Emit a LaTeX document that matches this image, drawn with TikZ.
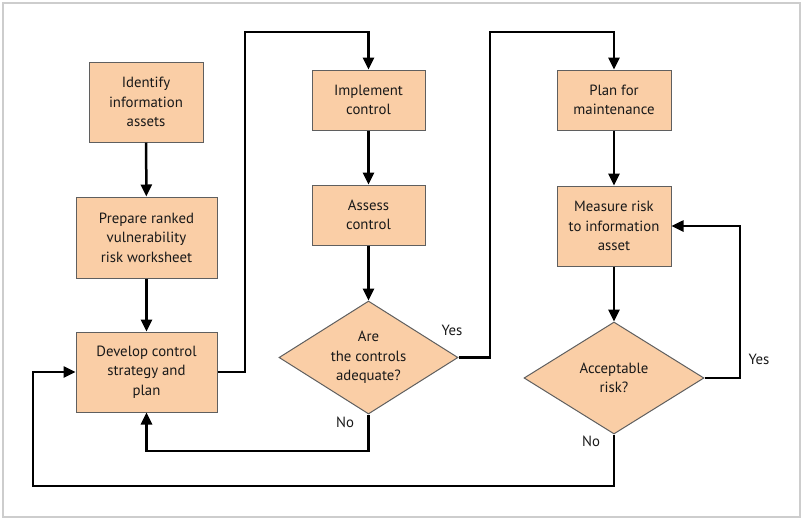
\documentclass[tikz,border=0pt]{standalone}
\usepackage{fontspec}
\setmainfont{PT Sans}
\usetikzlibrary{shapes.geometric,arrows.meta}
\definecolor{peach}{RGB}{250,206,166}
\definecolor{edgegray}{RGB}{95,95,95}
\definecolor{framegray}{RGB}{205,205,205}
\tikzset{
  stepbox/.style={draw=edgegray, line width=1pt, fill=peach, inner sep=0pt,
    align=center, font=\fontsize{14.8}{19.5}\selectfont, text=black!90},
  decide/.style={diamond, aspect=1.6, draw=edgegray, line width=1pt, fill=peach, inner sep=0pt,
    align=center, font=\fontsize{14.8}{19.5}\selectfont, text=black!90},
  flow/.style={line width=2.5pt, -{Triangle[length=12pt,width=11pt]}},
  answer/.style={font=\fontsize{14.8}{16}\selectfont, text=black!90}
}
\begin{document}
\begin{tikzpicture}[x=1pt,y=-1pt]

    \useasboundingbox (0,0) rectangle (804,520);
    \draw [framegray, line width=1.5pt] (3,3) rectangle (800,517);

    \node [stepbox, minimum width=114pt, minimum height=80pt] (ident) at (146,102) {Identify\\information\\assets};
    \node [stepbox, minimum width=141pt, minimum height=81pt] (prep) at (146.5,237.5) {Prepare ranked\\vulnerability\\risk worksheet};
    \node [stepbox, minimum width=141pt, minimum height=80pt] (devel) at (146.5,372) {Develop control\\strategy and\\plan};

    \node [stepbox, minimum width=113pt, minimum height=60pt] (impl) at (368.5,100) {Implement\\control};
    \node [stepbox, minimum width=113pt, minimum height=60pt] (assess) at (368.5,215) {Assess\\control};
    \node [decide, minimum width=179pt, minimum height=113pt] (dec1) at (368.5,357.5) {Are\\the controls\\adequate?};

    \node [stepbox, minimum width=114pt, minimum height=60pt] (plan) at (614,100) {Plan for\\maintenance};
    \node [stepbox, minimum width=114pt, minimum height=80pt] (meas) at (614,226) {Measure risk\\to information\\asset};
    \node [decide, minimum width=180pt, minimum height=112pt] (dec2) at (614,378) {Acceptable\\risk?};

    \coordinate (top1) at (245,32);
    \coordinate (top2) at (490,32);
    \coordinate (loopr) at (740,226);
    \coordinate (nob) at (368.5,451);
    \coordinate (botl) at (33,486);

    \draw [flow] (ident) -- (prep);
    \draw [flow] (prep) -- (devel);
    \draw [flow] (devel.east) -| (top1) -| (impl.north);
    \draw [flow] (impl) -- (assess);
    \draw [flow] (assess) -- (dec1);
    \draw [flow] (dec1.east) -| (top2) -| (plan.north);
    \draw [flow] (plan) -- (meas);
    \draw [flow] (meas) -- (dec2);
    \draw [flow] (dec2.east) -| (loopr) -- (meas.east);
    \draw [flow] (dec1.south) -- (nob) -| (devel.south);
    \draw [flow] (dec2.south) |- (botl) |- (devel.west);

    \node [answer] (yes1) at (452,330) {Yes};
    \node [answer] (no1) at (345,422) {No};
    \node [answer] (yes2) at (759,359) {Yes};
    \node [answer] (no2) at (591,441) {No};
\end{tikzpicture}
\end{document}
